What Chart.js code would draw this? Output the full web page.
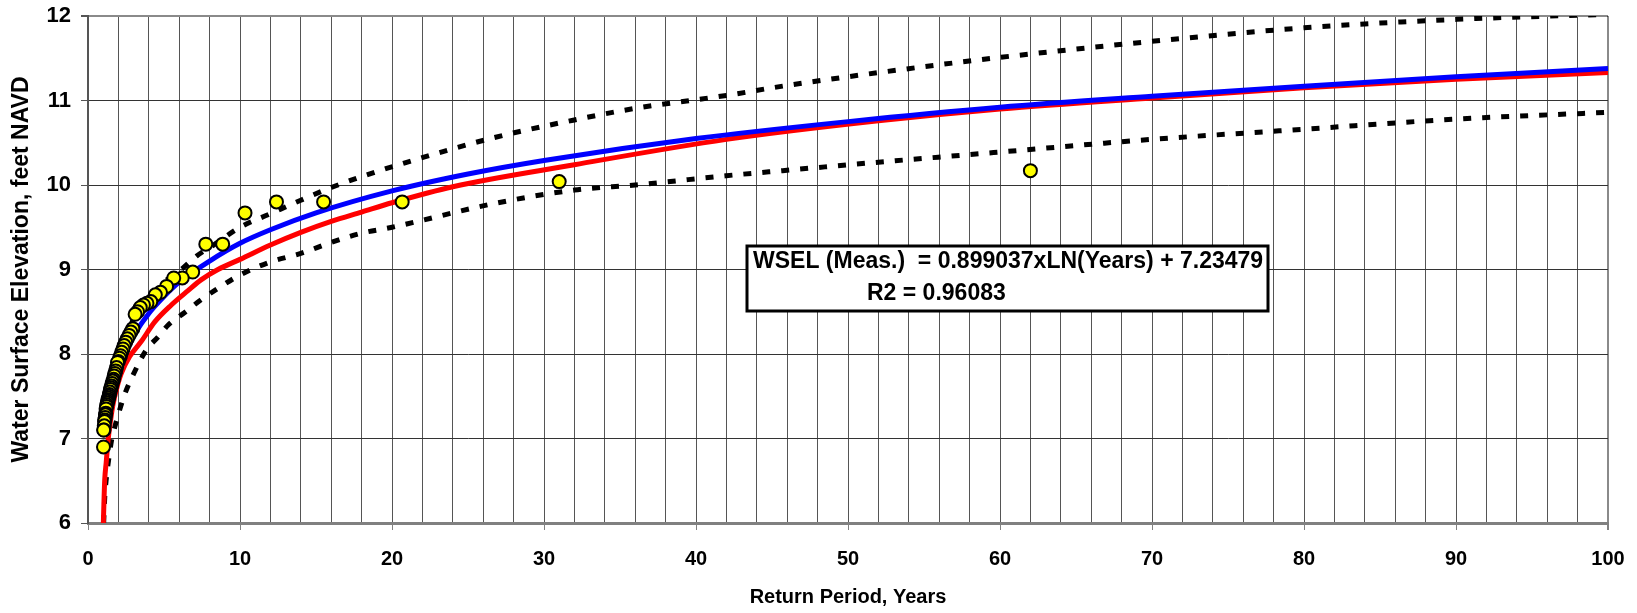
<!DOCTYPE html>
<html>
<head>
<meta charset="utf-8">
<style>
  html, body { margin: 0; padding: 0; background: #fff; }
  canvas { display: block; }
</style>
<script src="https://cdn.jsdelivr.net/npm/chart.js@4.4.1/dist/chart.umd.min.js"></script>
</head>
<body>
<canvas id="chart" width="1637" height="613"></canvas>
<script>
'use strict';

// measured water levels, plotted at their return period
const obsYears = [62.0, 31.0, 20.67, 15.5, 12.4, 10.33, 8.86, 7.75, 6.89, 6.2, 5.64, 5.17, 4.77, 4.43, 4.13, 3.88,
  3.65, 3.44, 3.26, 3.1, 2.95, 2.82, 2.7, 2.58, 2.48, 2.38, 2.3, 2.21, 2.14, 2.07, 2.0, 1.94, 1.88, 1.82, 1.77,
  1.72, 1.68, 1.63, 1.59, 1.55, 1.51, 1.48, 1.44, 1.41, 1.38, 1.35, 1.32, 1.29, 1.27, 1.24, 1.22, 1.19, 1.17,
  1.15, 1.13, 1.11, 1.09, 1.07, 1.05, 1.03, 1.02];
const obsWsel = [10.17, 10.04, 9.80, 9.80, 9.80, 9.67, 9.30, 9.30, 8.97, 8.90, 8.90, 8.80, 8.73, 8.70, 8.62, 8.60,
  8.58, 8.55, 8.50, 8.47, 8.30, 8.26, 8.22, 8.18, 8.14, 8.10, 8.06, 8.02, 7.98, 7.95, 7.91, 7.90, 7.84, 7.80, 7.77,
  7.74, 7.70, 7.68, 7.65, 7.62, 7.60, 7.58, 7.55, 7.52, 7.50, 7.48, 7.46, 7.44, 7.42, 7.40, 7.38, 7.35, 7.30,
  7.28, 7.25, 7.22, 7.20, 7.15, 7.10, 7.10, 6.90];

// log trend line (blue)
const trendYears = [1.02, 1.2, 1.5, 2, 2.5, 3, 4, 5, 6, 8, 10, 12, 15, 20, 25, 30, 40, 50, 60, 70, 80, 90, 100];
const trendWsel = [7.25, 7.40, 7.60, 7.86, 8.06, 8.22, 8.48, 8.68, 8.85, 9.10, 9.31, 9.47, 9.67, 9.93, 10.13,
  10.29, 10.55, 10.75, 10.92, 11.05, 11.17, 11.28, 11.38];

// frequency curve (red)
const fitYears = [1.01, 1.05, 1.1, 1.2, 1.32, 1.45, 1.64, 1.9, 2.19, 2.74, 3.51, 4.39, 5.48, 6.58, 7.46, 8.55,
  10, 12, 14, 16, 18, 20, 24, 32, 42, 52, 60, 70, 80, 90, 100];
const fitWsel = [6.0, 6.25, 6.51, 6.72, 6.98, 7.17, 7.40, 7.60, 7.77, 7.97, 8.15, 8.38, 8.58, 8.75, 8.88, 9.0,
  9.12, 9.29, 9.44, 9.57, 9.68, 9.79, 9.98, 10.24, 10.54, 10.76, 10.90, 11.03, 11.15, 11.25, 11.33];

// confidence limits (dashed)
const upperYears = [1.05, 1.2, 1.5, 2, 2.5, 3, 4, 5, 6.2, 7.15, 8.35, 10, 12, 14, 16, 18, 20.8, 26.7, 32,
  36.1, 42, 45.7, 52, 60, 70, 80, 90, 100];
const upperWsel = [7.05, 7.35, 7.62, 7.95, 8.18, 8.42, 8.66, 8.85, 9.01, 9.16, 9.30, 9.50, 9.66, 9.82, 9.97,
  10.10, 10.26, 10.56, 10.77, 10.91, 11.06, 11.17, 11.33, 11.51, 11.70, 11.86, 11.96, 12.02];
const lowerYears = [1.03, 1.1, 1.2, 1.32, 1.43, 1.54, 1.64, 1.97, 2.45, 2.96, 3.84, 4.6, 5.26, 6.36, 7.35, 8.75,
  10, 12, 14, 16, 18, 20, 26.7, 32, 36, 42, 45.7, 52, 60, 70, 80, 90, 100];
const lowerWsel = [6.0, 6.3, 6.52, 6.70, 6.84, 6.97, 7.05, 7.27, 7.54, 7.75, 8.05, 8.20, 8.34, 8.49, 8.63, 8.80,
  8.935, 9.09, 9.19, 9.32, 9.43, 9.50, 9.78, 9.94, 10.0, 10.11, 10.17, 10.27, 10.39, 10.54, 10.66, 10.78, 10.86];

const xTitle = 'Return Period, Years';
const yTitle = 'Water Surface Elevation, feet NAVD';
const eqLines = ['WSEL (Meas.)  = 0.899037xLN(Years) + 7.23479', 'R2 = 0.96083'];

const FONT = 'Arial, "Liberation Sans", sans-serif';

function toPoints(xs, ys) {
  return xs.map((x, i) => ({ x: x, y: ys[i] }));
}

function lineSet(xs, ys, color, width, dash) {
  return {
    data: toPoints(xs, ys),
    showLine: true,
    borderColor: color,
    borderWidth: width,
    borderDash: dash || [],
    pointRadius: 0,
    cubicInterpolationMode: 'monotone',
    fill: false
  };
}

// text box with the regression equation
const equationBox = {
  id: 'equationBox',
  afterDatasetsDraw(chart) {
    const c = chart.ctx;
    c.save();
    c.fillStyle = '#fff';
    c.fillRect(747, 246, 521, 65);
    c.lineWidth = 3;
    c.strokeStyle = '#000';
    c.strokeRect(747, 246, 521, 65);
    c.fillStyle = '#000';
    c.font = 'bold 23px ' + FONT;
    c.textBaseline = 'alphabetic';
    c.fillText(eqLines[0], 753, 268);
    c.fillText(eqLines[1], 867, 300);
    c.restore();
  }
};

const canvasElem = document.getElementById('chart');

new Chart(canvasElem.getContext('2d'), {
  type: 'scatter',
  data: {
    datasets: [
      {
        data: toPoints(obsYears, obsWsel),
        pointRadius: 6.5,
        pointBackgroundColor: '#ffff00',
        pointBorderColor: '#000',
        pointBorderWidth: 2,
        showLine: false
      },
      lineSet(trendYears, trendWsel, '#0000ff', 5),
      lineSet(fitYears, fitWsel, '#ff0000', 5),
      lineSet(upperYears, upperWsel, '#000', 5, [8, 11]),
      lineSet(lowerYears, lowerWsel, '#000', 5, [8, 11])
    ]
  },
  options: {
    responsive: false,
    animation: false,
    layout: { padding: { top: 16, right: 29, bottom: 0, left: 0 } },
    plugins: {
      legend: { display: false },
      tooltip: { enabled: false }
    },
    scales: {
      x: {
        type: 'linear',
        min: 0,
        max: 100,
        afterFit: s => { s.height = 90; s.paddingLeft = 0; s.paddingRight = 0; },
        ticks: {
          stepSize: 2,
          autoSkip: false,
          maxRotation: 0,
          padding: 17,
          color: '#000',
          font: { family: FONT, size: 20, weight: 'bold' },
          callback: v => (v % 10 === 0 ? v : '')
        },
        grid: {
          color: ctx => (ctx.tick && ctx.tick.value === 100 ? '#8a8a8a' : '#555'),
          lineWidth: ctx => (ctx.tick && ctx.tick.value === 100 ? 2 : 1),
          tickLength: 7,
          tickColor: ctx => (ctx.tick && ctx.tick.value % 10 === 0 ? '#808080' : 'rgba(0,0,0,0)')
        },
        border: { color: '#808080', width: 3 },
        title: {
          display: true,
          text: xTitle,
          color: '#000',
          font: { family: FONT, size: 20, weight: 'bold' },
          padding: { top: 0, bottom: 4 }
        }
      },
      y: {
        min: 6,
        max: 12,
        afterFit: s => { s.width = 88; s.paddingTop = 0; s.paddingBottom = 0; },
        ticks: {
          stepSize: 1,
          padding: 10,
          color: '#000',
          font: { family: FONT, size: 22, weight: 'bold' }
        },
        grid: {
          color: ctx => (ctx.tick && ctx.tick.value === 12 ? '#8a8a8a' : '#333'),
          lineWidth: ctx => (ctx.tick && ctx.tick.value === 12 ? 2 : 1),
          tickLength: 7,
          tickColor: '#555'
        },
        border: { color: '#555', width: 2 },
        title: {
          display: true,
          text: yTitle,
          color: '#000',
          font: { family: FONT, size: 23, weight: 'bold' },
          padding: { top: 8, bottom: 0 }
        }
      }
    }
  },
  plugins: [equationBox]
});
</script>
</body>
</html>
